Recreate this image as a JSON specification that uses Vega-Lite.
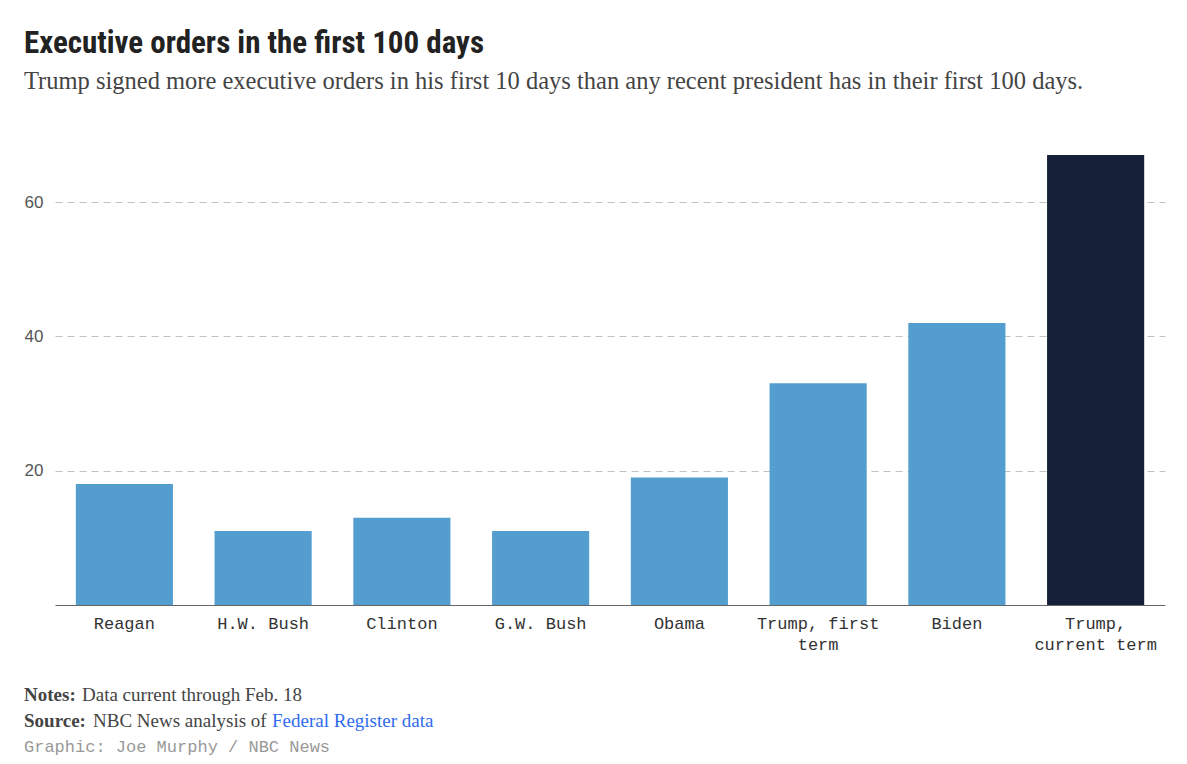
{
  "$schema": "https://vega.github.io/schema/vega-lite/v6.json",
  "padding": {"left": 24, "top": 27, "right": 22, "bottom": 0},
  "background": "white",
  "title": {
    "text": "Executive orders in the first 100 days",
    "subtitle": "Trump signed more executive orders in his first 10 days than any recent president has in their first 100 days.",
    "anchor": "start",
    "font": "Liberation Sans Narrow, Roboto Condensed, Roboto",
    "fontSize": 31,
    "fontWeight": "bold",
    "color": "#222222",
    "subtitleFont": "Liberation Serif",
    "subtitleFontSize": 24.5,
    "subtitleColor": "#444444",
    "subtitlePadding": 10,
    "offset": 61
  },
  "spacing": 30,
  "vconcat": [
    {
      "width": 1110,
      "height": 450,
      "data": {
        "values": [
          {"president": "Reagan", "orders": 18},
          {"president": "H.W. Bush", "orders": 11},
          {"president": "Clinton", "orders": 13},
          {"president": "G.W. Bush", "orders": 11},
          {"president": "Obama", "orders": 19},
          {"president": "Trump, first term", "orders": 33},
          {"president": "Biden", "orders": 42},
          {"president": "Trump, current term", "orders": 67}
        ]
      },
      "mark": {"type": "bar"},
      "encoding": {
        "x": {
          "field": "president",
          "type": "nominal",
          "sort": null,
          "scale": {"paddingInner": 0.3, "paddingOuter": 0.15},
          "axis": {
            "title": null,
            "labelAngle": 0,
            "labelFont": "Liberation Mono",
            "labelFontSize": 17,
            "labelColor": "#333333",
            "labelLineHeight": 21,
            "labelPadding": 10,
            "ticks": false,
            "domainColor": "#666666",
            "labelExpr": "datum.label == 'Trump, first term' ? ['Trump, first', 'term'] : datum.label == 'Trump, current term' ? ['Trump,', 'current term'] : datum.label"
          }
        },
        "y": {
          "field": "orders",
          "type": "quantitative",
          "scale": {"domain": [0, 67], "nice": false},
          "axis": {
            "title": null,
            "values": [20, 40, 60],
            "domain": false,
            "ticks": false,
            "gridDash": [7, 5],
            "gridColor": "#c2c2c2",
            "labelFont": "Liberation Sans",
            "labelFontSize": 17,
            "labelColor": "#555555",
            "labelPadding": 12
          }
        },
        "color": {
          "condition": {"test": "datum.president === 'Trump, current term'", "value": "#141f38"},
          "value": "#539ecf"
        }
      }
    },
    {
      "width": 1110,
      "height": 78,
      "data": {
        "values": [
          {"line": 1, "piece": "notesLabel", "text": "Notes:"},
          {"line": 1, "piece": "notesText", "text": "Data current through Feb. 18"},
          {"line": 2, "piece": "sourceLabel", "text": "Source:"},
          {"line": 2, "piece": "sourceText", "text": "NBC News analysis of"},
          {"line": 2, "piece": "sourceLink", "text": "Federal Register data"},
          {"line": 3, "piece": "credit", "text": "Graphic: Joe Murphy / NBC News"}
        ]
      },
      "encoding": {
        "y": {"field": "line", "type": "ordinal", "axis": null},
        "x": {"value": 0},
        "text": {"field": "text"}
      },
      "layer": [
        {
          "transform": [{"filter": "datum.piece === 'notesLabel' || datum.piece === 'sourceLabel'"}],
          "mark": {"type": "text", "align": "left", "baseline": "middle", "dx": -31, "font": "Liberation Serif", "fontSize": 19, "fontWeight": "bold", "color": "#444444"}
        },
        {
          "transform": [{"filter": "datum.piece === 'notesText'"}],
          "mark": {"type": "text", "align": "left", "baseline": "middle", "dx": 27, "font": "Liberation Serif", "fontSize": 19, "color": "#444444"}
        },
        {
          "transform": [{"filter": "datum.piece === 'sourceText'"}],
          "mark": {"type": "text", "align": "left", "baseline": "middle", "dx": 38, "font": "Liberation Serif", "fontSize": 19, "color": "#444444"}
        },
        {
          "transform": [{"filter": "datum.piece === 'sourceLink'"}],
          "mark": {"type": "text", "align": "left", "baseline": "middle", "dx": 217, "font": "Liberation Serif", "fontSize": 19, "color": "#2f6bef"}
        },
        {
          "transform": [{"filter": "datum.piece === 'credit'"}],
          "mark": {"type": "text", "align": "left", "baseline": "middle", "dx": -31, "font": "Liberation Mono", "fontSize": 17, "color": "#999999"}
        }
      ]
    }
  ],
  "config": {"view": {"stroke": null}}
}
